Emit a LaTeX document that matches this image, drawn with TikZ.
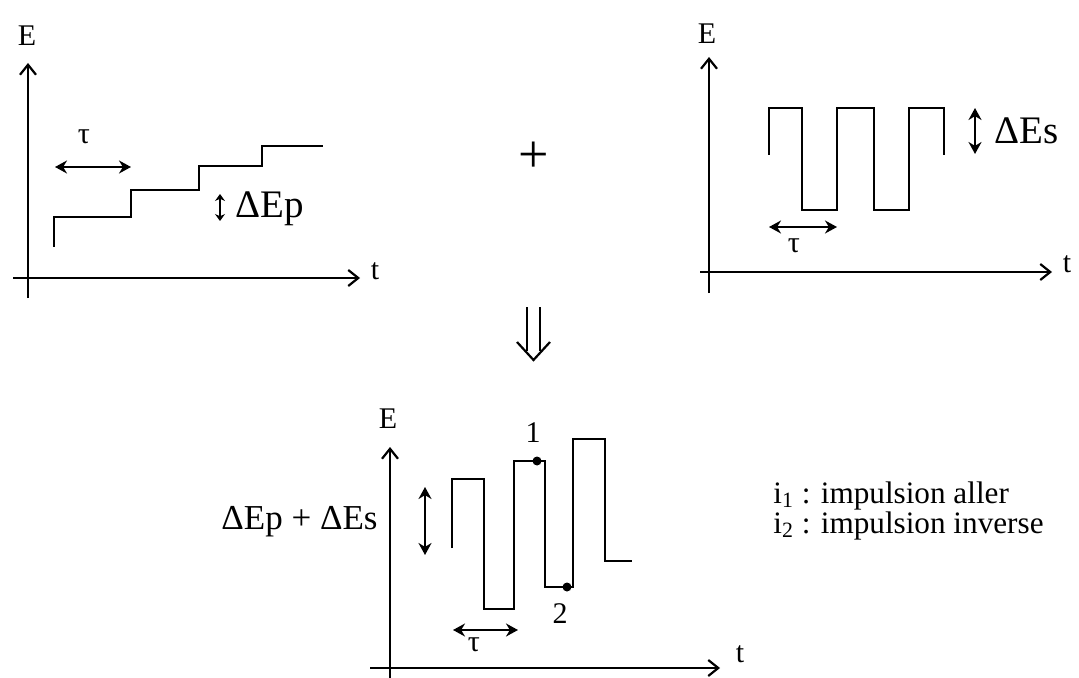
\documentclass[tikz,border=0pt]{standalone}
\usepackage{fontspec}
\setmainfont{Liberation Serif}
\usetikzlibrary{arrows.meta}

\tikzset{
  axis/.style={line width=1.1pt,-{Straight Barb[length=5pt,width=8pt]}},
  signal/.style={line width=1.1pt},
  span/.style={line width=1.1pt,{Stealth[length=6pt,width=6.5pt]}-{Stealth[length=6pt,width=6.5pt]}},
  lbl/.style={inner sep=0pt,font=\fontsize{15}{18}\selectfont},
  big/.style={inner sep=0pt,font=\fontsize{19.5}{23}\selectfont},
  legend/.style={inner sep=0pt,anchor=north west,align=left,font=\fontsize{15.6}{14}\selectfont},
  pin/.style={circle,fill,inner sep=0pt,minimum size=4.5pt},
}

\begin{document}
\begin{tikzpicture}[x=0.5pt,y=-0.5pt]
    \useasboundingbox (0,0) rectangle (1079,678);

    % staircase (Ep)
    \coordinate (pyb) at (28,298);
    \coordinate (pyt) at (28,63);
    \coordinate (pxl) at (13,278);
    \coordinate (pxr) at (360,278);
    \draw[axis] (pyb) -- (pyt);
    \draw[axis] (pxl) -- (pxr);
    \node[lbl] (pE) at (27,36) {E};
    \node[lbl] (pt) at (375,271) {t};
    \draw[signal] (54,247) |- (131,217) |- (199,190) |- (262,166) |- (323,146);
    \coordinate (ptl) at (55,167);
    \coordinate (ptr) at (131,167);
    \draw[span] (ptl) -- (ptr);
    \node[lbl] (ptau) at (84,137) {τ};
    \coordinate (pdt) at (220,194);
    \coordinate (pdb) at (220,221);
    \draw[line width=1.1pt,{Stealth[length=3.5pt,width=5pt]}-{Stealth[length=3.5pt,width=5pt]}] (pdt) -- (pdb);
    \node[big,anchor=west] (pdE) at (235,209) {ΔEp};

    % plus
    \node[inner sep=0pt,font=\fontsize{27}{30}\selectfont] (plus) at (534,157) {+};

    % square wave (Es)
    \coordinate (syb) at (709,293);
    \coordinate (syt) at (709,57);
    \coordinate (sxl) at (700,272);
    \coordinate (sxr) at (1052,272);
    \draw[axis] (syb) -- (syt);
    \draw[axis] (sxl) -- (sxr);
    \node[lbl] (sE) at (707,34) {E};
    \node[lbl] (st) at (1067,264) {t};
    \draw[signal] (769,155) |- (802,108) |- (837,210) |- (874,108) |- (909,210) |- (944,108) -- (944,155);
    \coordinate (sdt) at (975,108);
    \coordinate (sdb) at (975,154);
    \draw[span] (sdt) -- (sdb);
    \node[big,anchor=west] (sdE) at (994,131) {ΔEs};
    \coordinate (stl) at (769,227);
    \coordinate (str) at (837,227);
    \draw[span] (stl) -- (str);
    \node[lbl] (stau) at (794,246) {τ};

    % implies
    \draw[line width=1.1pt] (527,307) -- (527,351) (540,307) -- (540,351);
    \draw[line width=1.1pt] (517,342) -- (533.5,360) -- (550,342);

    % sum
    \coordinate (cyb) at (390,680);
    \coordinate (cyt) at (390,447);
    \coordinate (cxl) at (370,668);
    \coordinate (cxr) at (720,668);
    \draw[axis] (cyb) -- (cyt);
    \draw[axis] (cxl) -- (cxr);
    \node[lbl] (cE) at (388,419) {E};
    \node[lbl] (ct) at (740,654) {t};
    \draw[signal] (452,548) |- (484,479) |- (514,609) |- (545,461) |- (573,587) |- (605,439) |- (632,561);
    \node[pin] (c1) at (537,461) {};
    \node[pin] (c2) at (567,587) {};
    \node[lbl] (c1l) at (533,433) {1};
    \node[lbl] (c2l) at (560,614) {2};
    \coordinate (cdt) at (425,487);
    \coordinate (cdb) at (425,555);
    \draw[span] (cdt) -- (cdb);
    \node[big,anchor=east,font=\fontsize{17.5}{21}\selectfont] (cdE) at (378,522) {ΔEp + ΔEs};
    \coordinate (ctl) at (453,630);
    \coordinate (ctr) at (518,630);
    \draw[span] (ctl) -- (ctr);
    \node[lbl] (ctau) at (474,645) {τ};

    % legend
    \node[legend] (leg) at (773,481) {i\textsubscript{1} : impulsion aller\\
      i\textsubscript{2} : impulsion inverse};
  \end{tikzpicture}
\end{document}
